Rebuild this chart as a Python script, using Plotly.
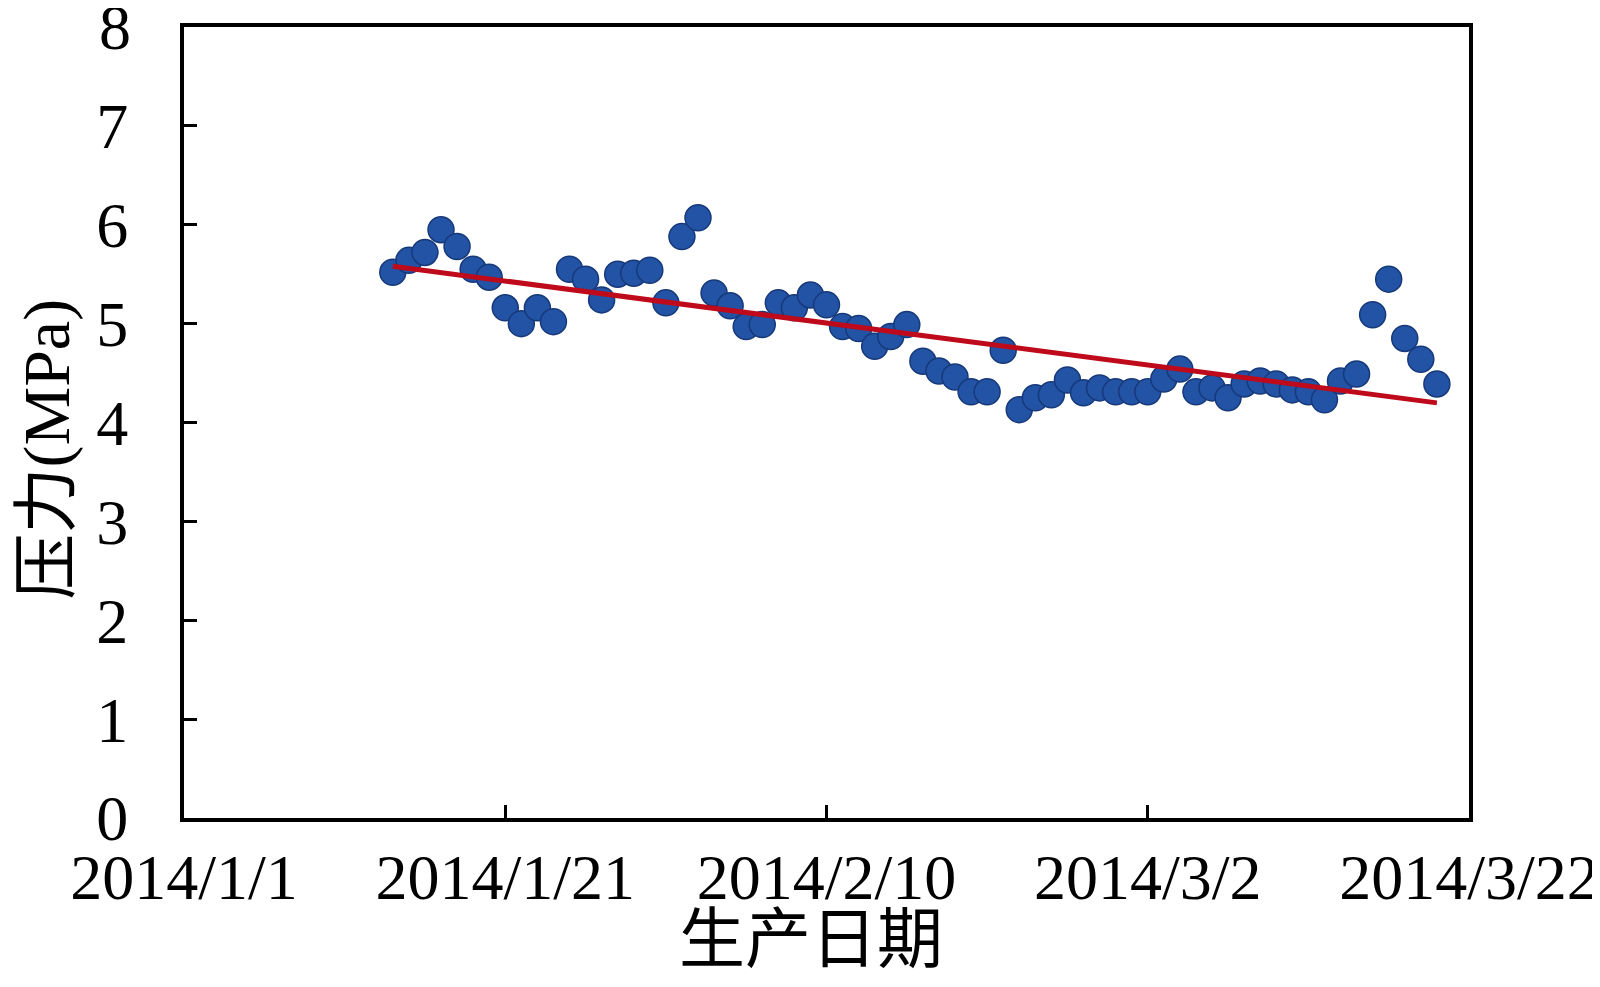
import numpy as np
import pandas as pd
import plotly.graph_objects as go

start_date = "2014-01-14"
pressure = [5.52, 5.64, 5.72, 5.95, 5.78, 5.55, 5.47, 5.16, 5.00, 5.16,
            5.02, 5.55, 5.45, 5.24, 5.50, 5.51, 5.54, 5.21, 5.88, 6.07,
            5.31, 5.18, 4.97, 4.99, 5.21, 5.16, 5.29, 5.19, 4.97, 4.95,
            4.77, 4.87, 4.99, 4.62, 4.52, 4.46, 4.31, 4.31, 4.73, 4.13,
            4.25, 4.28, 4.43, 4.30, 4.35, 4.31, 4.31, 4.31, 4.44, 4.54,
            4.31, 4.35, 4.25, 4.39, 4.42, 4.39, 4.33, 4.31, 4.23, 4.42,
            4.49, 5.09, 5.45, 4.85, 4.64, 4.39]
tick_dates = ["2014-01-01", "2014-01-21", "2014-02-10", "2014-03-02", "2014-03-22"]
tick_labels = ["2014/1/1", "2014/1/21", "2014/2/10", "2014/3/2", "2014/3/22"]
y_ticks = [0, 1, 2, 3, 4, 5, 6, 7, 8]
x_title = "生产日期"
y_title = "压力(MPa)"

dates = pd.date_range(start_date, periods=len(pressure), freq="D")
t = np.arange(len(pressure))
slope, intercept = np.polyfit(t, pressure, 1)
trend = slope * t + intercept

serif = "Liberation Serif, Times New Roman, serif"
cjk = "Liberation Serif, Noto Sans CJK SC, serif"
TICK_FS = 64
TITLE_FS = 66

fig = go.Figure()
fig.add_trace(go.Scatter(
    x=dates, y=pressure, mode="markers",
    marker=dict(size=26, color="#2253A4", line=dict(color="#17397A", width=1.5)),
    showlegend=False, cliponaxis=False,
))
fig.add_trace(go.Scatter(
    x=[dates[0], dates[-1]], y=[trend[0], trend[-1]], mode="lines",
    line=dict(color="#BE0A1A", width=5), showlegend=False,
))

fig.update_layout(
    width=1592, height=979,
    margin=dict(l=176, r=131, t=19, b=169),
    plot_bgcolor="white", paper_bgcolor="white",
    font=dict(family=serif, size=TICK_FS, color="black"),
)
fig.update_xaxes(
    range=[tick_dates[0], tick_dates[-1]],
    tickmode="array", tickvals=tick_dates, ticktext=tick_labels,
    ticks="inside", ticklen=13, tickwidth=3, tickcolor="black",
    showline=True, linewidth=4, linecolor="black", mirror=True,
    showgrid=False, zeroline=False, automargin=False,
    ticklabelstandoff=0,
)
# top label "8" is drawn as an annotation because it sits at the paper edge
y_text = [str(v) if v != y_ticks[-1] else "" for v in y_ticks]
fig.update_yaxes(
    range=[0, 8.0001], tickmode="array", tickvals=y_ticks, ticktext=y_text,
    ticks="inside", ticklen=13, tickwidth=3, tickcolor="black",
    showline=True, linewidth=4, linecolor="black", mirror=True,
    showgrid=False, zeroline=False, automargin=False,
    ticklabelstandoff=39,
)
fig.add_annotation(
    x=0, xref="paper", y=y_ticks[-1], yref="y", text=str(y_ticks[-1]),
    showarrow=False, xanchor="right", yanchor="middle", xshift=-51,
    font=dict(family=serif, size=TICK_FS, color="black"),
)
fig.add_annotation(
    x=0.5, xref="paper", y=0, yref="paper", text=x_title,
    showarrow=False, xanchor="center", yanchor="middle",
    xshift=-16, yshift=-121,
    font=dict(family=cjk, size=TITLE_FS, color="black"),
)
fig.add_annotation(
    x=0, xref="paper", y=0.5, yref="paper", text=y_title, textangle=-90,
    showarrow=False, xanchor="center", yanchor="middle",
    xshift=-138, yshift=-27,
    font=dict(family=cjk, size=TITLE_FS, color="black"),
)

fig.write_html("out.html")
